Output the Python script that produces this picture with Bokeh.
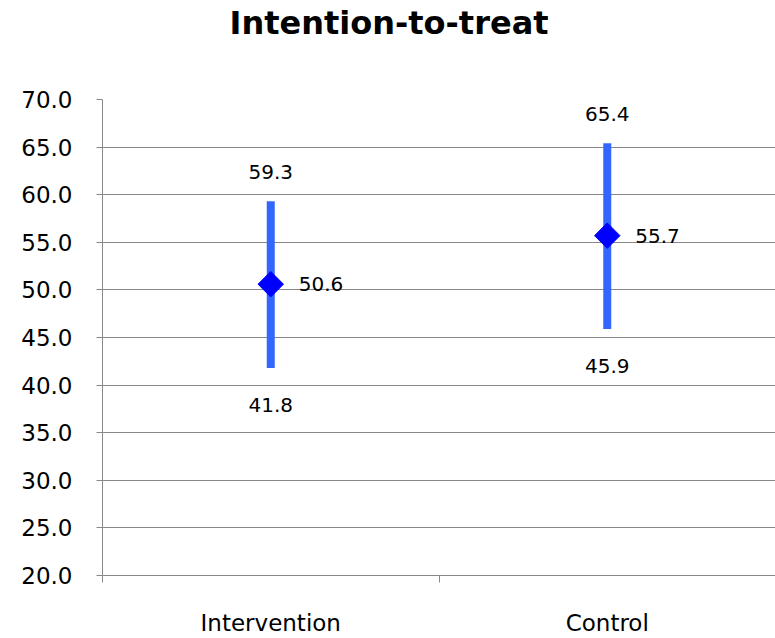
from bokeh.plotting import figure
from bokeh.models import FixedTicker, Range1d, Title, NumeralTickFormatter, ColumnDataSource
from bokeh.core.properties import value
from bokeh.embed import file_html
from bokeh.resources import INLINE

# Mean with 95% interval per study arm
categories = ["Intervention", "Control"]
mean = [50.6, 55.7]
lower = [41.8, 45.9]
upper = [59.3, 65.4]
y_ticks = [20.0, 25.0, 30.0, 35.0, 40.0, 45.0, 50.0, 55.0, 60.0, 65.0, 70.0]
title_text = "Intention-to-treat"

FONT = "DejaVu Sans"
xpos = [i + 0.5 for i in range(len(categories))]

src = ColumnDataSource(dict(
    x=xpos, mean=mean, lower=lower, upper=upper,
    mean_txt=[f"{v:.1f}" for v in mean],
    lower_txt=[f"{v:.1f}" for v in lower],
    upper_txt=[f"{v:.1f}" for v in upper],
))

p = figure(width=775, height=638, output_backend="svg", toolbar_location=None,
           x_range=Range1d(0, len(categories)), y_range=Range1d(y_ticks[0], y_ticks[-1]),
           min_border_left=102, min_border_right=0, min_border_top=99, min_border_bottom=63)
p.outline_line_color = None
p.background_fill_color = "white"
p.border_fill_color = "white"

# blank panel between the frame and the title, to lift the title to the top
p.add_layout(Title(text=" ", text_font_size="10px", standoff=44), "above")
# title centred on the whole canvas rather than on the frame
p.add_layout(Title(text=title_text, align="left", offset=127, text_font=FONT,
                   text_font_size="32px", text_font_style="bold", text_color="black",
                   standoff=2), "above")

# y axis
p.yaxis.ticker = FixedTicker(ticks=y_ticks)
p.yaxis.formatter = NumeralTickFormatter(format="0.0")
p.yaxis.axis_line_color = "#888888"
p.yaxis.major_tick_line_color = "#888888"
p.yaxis.major_tick_in = 0
p.yaxis.major_tick_out = 6
p.yaxis.minor_tick_line_color = None
p.yaxis.major_label_text_font = FONT
p.yaxis.major_label_text_font_size = "23px"
p.yaxis.major_label_text_color = "black"
p.yaxis.major_label_standoff = 24

# x axis: labels at category centres, tick marks at category boundaries
p.xaxis.ticker = FixedTicker(ticks=xpos, minor_ticks=list(range(len(categories) + 1)))
p.xaxis.major_label_overrides = {x: c for x, c in zip(xpos, categories)}
p.xaxis.axis_line_color = "#888888"
p.xaxis.major_tick_line_color = None
p.xaxis.minor_tick_line_color = "#888888"
p.xaxis.minor_tick_in = 0
p.xaxis.minor_tick_out = 7
p.xaxis.major_label_text_font = FONT
p.xaxis.major_label_text_font_size = "23px"
p.xaxis.major_label_text_color = "black"
p.xaxis.major_label_standoff = 27

p.xgrid.grid_line_color = None
p.ygrid.ticker = FixedTicker(ticks=y_ticks)
p.ygrid.grid_line_color = "#878787"
p.ygrid.grid_line_width = 1.2

# interval bars
p.segment(x0="x", x1="x", y0="lower", y1="upper", source=src,
          line_color="#3366ff", line_width=8, line_cap="butt")

# mean markers
p.scatter(x="x", y="mean", source=src, marker="square", angle=0.785398,
          size=18, fill_color="#0000ff", line_color="#0000ff")

# value labels
common = dict(source=src, text_font=value(FONT), text_font_size="20px", text_color="black")
p.text(x="x", y="upper", text="upper_txt", text_align="center", text_baseline="middle",
       y_offset=-29, **common)
p.text(x="x", y="lower", text="lower_txt", text_align="center", text_baseline="middle",
       y_offset=37, **common)
p.text(x="x", y="mean", text="mean_txt", text_align="left", text_baseline="middle",
       x_offset=28, **common)

open("out.html", "w").write(file_html(p, INLINE))
